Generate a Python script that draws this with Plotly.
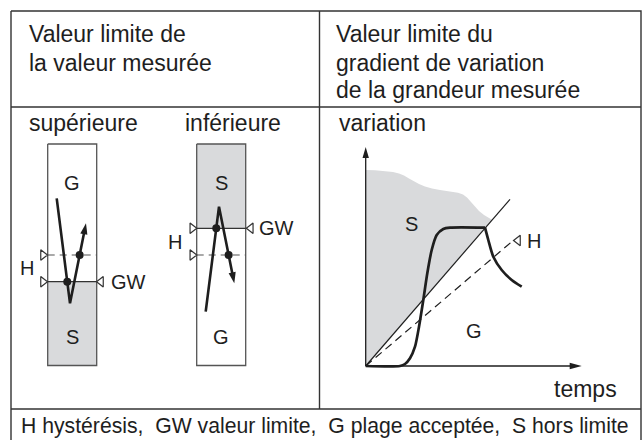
import numpy as np
import plotly.graph_objects as go

# ---------------- data (diagram coordinates, px units, y grows downward) ----------------
W, H = 644, 440

table_x = [11, 641]
table_y = [11, 441]
mid_x = 319.5
header_y = 107
footer_y = 409

header_left = ["Valeur limite de", "la valeur mesurée"]
header_right = ["Valeur limite du", "gradient de variation", "de la grandeur mesurée"]
header_line_y = [33.5, 62.5, 90]
sub_labels = ["supérieure", "inférieure", "variation"]
sub_label_x = [26.5, 182.5, 337]
sub_label_y = 123
footer_text = "H hystérésis,\u00a0\u00a0GW valeur limite,\u00a0\u00a0G plage acceptée,\u00a0\u00a0S hors limite"

# left diagrams: boxes
box_x0 = [47.7, 196.7]
box_x1 = [96.7, 245.7]
box_top, box_bot = 144, 365.5
gw_y = [281.7, 228.3]          # limit value line
h_y = [255, 255]               # hysteresis (dashed) line
gray_from = [281.7, 144]       # gray zone start
gray_to = [365.5, 228.3]       # gray zone end
zone_top = ["G", "S"]
zone_bot = ["S", "G"]
zone_label_y = [182.7, 336.7]

# measured value traces
trace1_x = [56.7, 70, 86]
trace1_y = [198.3, 303.3, 223.3]
trace2_x = [205.7, 219, 234.3]
trace2_y = [311.7, 206.7, 283.3]

# markers beside the boxes
tri_right_x = [43, 192.3]
tri_left_x = [101, 250.8]
h_label = [(26.7, 268.3), (174.7, 241.7)]
gw_label = [(128.7, 281.7), (276.7, 228.3)]

# right diagram
origin = (365.7, 366)
yaxis_tip = 147
xaxis_tip = 581.7
limit_line_end = (510, 199.3)
hyst_line_end = (512, 241.5)
hyst_marker = (518, 240.5)
hyst_label = (533.5, 241)
gray_top_x = [365.7, 375, 385, 393, 399, 404, 409, 414, 419, 425, 432, 440, 450, 458, 463,
              467, 471, 475, 479, 484, 488, 492]
gray_top_y = [170, 170.3, 171, 172, 173.5, 175.5, 178.5, 181.5, 184, 186.5, 188.5, 190, 191.5,
              192.8, 194.5, 197.5, 202, 207, 211, 215, 217.5, 219.8]
curve_rise_x = [365.7, 400, 405, 410, 415, 419, 423.3, 427.3, 431.7, 436.7, 443.3, 450, 485]
curve_rise_y = [366, 366, 364, 358.3, 346.7, 326.7, 300, 273.3, 250, 235, 229, 227.7, 227.7]
curve_fall_x = [485, 488.3, 493.3, 501.7, 511.7, 521.7]
curve_fall_y = [227.7, 240, 256.7, 270, 280, 286.7]
s_label = (411.3, 223.7)
g_label = (474, 330.7)
temps_label = (585, 389)

# ---------------- styles ----------------
GRAY = "#d9dadc"
INK = "#1e1e1e"
FRAME = "#333333"
BOXC = "#555555"
FONT = "Liberation Sans, Arial, sans-serif"

fig = go.Figure()


def line(xs, ys, color=INK, width=1.2, dash=None, shape="linear", smooth=None):
    ln = dict(color=color, width=width, shape=shape)
    if dash:
        ln["dash"] = dash
    if smooth is not None:
        ln["smoothing"] = smooth
    fig.add_trace(go.Scatter(x=xs, y=ys, mode="lines", line=ln, hoverinfo="skip", showlegend=False))


def poly(xs, ys, color=GRAY):
    fig.add_trace(go.Scatter(x=xs, y=ys, mode="lines", fill="toself", fillcolor=color,
                             line=dict(width=0, color=color), hoverinfo="skip", showlegend=False))


def arrow_head(x0, y0, x1, y1, L=10, w=3.6, color=INK):
    d = np.array([x1 - x0, y1 - y0], float)
    u = d / np.hypot(*d)
    n = np.array([-u[1], u[0]])
    b = np.array([x1, y1]) - L * u
    p1 = b + w * n
    p2 = b - w * n
    poly([x1, p1[0], p2[0], x1], [y1, p1[1], p2[1], y1], color=color)
    return b


def text(x, y, s, size=20, anchor="center"):
    fig.add_annotation(x=x, y=y, text=s, showarrow=False, xanchor=anchor, yanchor="middle",
                       font=dict(family=FONT, size=size, color=INK))


def seg_x_at(xa, ya, xb, yb, y):
    return xa + (xb - xa) * (y - ya) / (yb - ya)


# gray zones in the boxes
for i in range(2):
    poly([box_x0[i], box_x1[i], box_x1[i], box_x0[i], box_x0[i]],
         [gray_from[i], gray_from[i], gray_to[i], gray_to[i], gray_from[i]])

# gray zone of right diagram (y axis, top boundary, limit line back to origin)
gx = [origin[0]] + gray_top_x + [origin[0]]
gy = [origin[1]] + gray_top_y + [origin[1]]
poly(gx, gy)

# table frame
line([table_x[0], table_x[1], table_x[1], table_x[0], table_x[0]],
     [table_y[0], table_y[0], table_y[1], table_y[1], table_y[0]], color=FRAME, width=1.4)
line([table_x[0], table_x[1]], [header_y, header_y], color=FRAME, width=1.4)
line([table_x[0], table_x[1]], [footer_y, footer_y], color=FRAME, width=1.4)
line([mid_x, mid_x], [table_y[0], footer_y], color=FRAME, width=1.4)

# boxes
for i in range(2):
    line([box_x0[i], box_x1[i], box_x1[i], box_x0[i], box_x0[i]],
         [box_top, box_top, box_bot, box_bot, box_top], color=BOXC, width=1.3)
    line([box_x0[i], box_x1[i]], [gw_y[i], gw_y[i]], color="#333", width=1.3)
    line([box_x0[i], box_x1[i]], [h_y[i], h_y[i]], color="#555", width=1.2, dash="7px,5px")
    cx = (box_x0[i] + box_x1[i]) / 2
    text(cx, zone_label_y[0], zone_top[i], size=20)
    text(cx, zone_label_y[1], zone_bot[i], size=20)

# open triangles
fig.add_trace(go.Scatter(x=[tri_right_x[0]] * 2 + [tri_right_x[1]] * 2,
                         y=[h_y[0], gw_y[0], h_y[1], gw_y[1]], mode="markers",
                         marker=dict(symbol="triangle-right", size=9, color="white",
                                     line=dict(color="#333", width=1.2)),
                         hoverinfo="skip", showlegend=False))
fig.add_trace(go.Scatter(x=tri_left_x + [hyst_marker[0]], y=gw_y + [hyst_marker[1]], mode="markers",
                         marker=dict(symbol="triangle-left", size=9, color="white",
                                     line=dict(color="#333", width=1.2)),
                         hoverinfo="skip", showlegend=False))

# measured value traces with arrow heads and crossing dots
for tx, ty, i in [(trace1_x, trace1_y, 0), (trace2_x, trace2_y, 1)]:
    b = arrow_head(tx[1], ty[1], tx[2], ty[2], L=11, w=3.6)
    line([tx[0], tx[1], b[0] + (tx[2] - b[0]) * 0.3], [ty[0], ty[1], b[1] + (ty[2] - b[1]) * 0.3],
         width=2.6)
    d1 = (seg_x_at(tx[0], ty[0], tx[1], ty[1], gw_y[i]), gw_y[i])
    d2 = (seg_x_at(tx[1], ty[1], tx[2], ty[2], h_y[i]), h_y[i])
    fig.add_trace(go.Scatter(x=[d1[0], d2[0]], y=[d1[1], d2[1]], mode="markers",
                             marker=dict(size=8, color=INK), hoverinfo="skip", showlegend=False))

for (x, y) in h_label:
    text(x, y, "H", size=20)
for (x, y) in gw_label:
    text(x, y, "GW", size=20)

# right diagram axes
arrow_head(origin[0], origin[1], origin[0], yaxis_tip, L=11, w=3.2)
line([origin[0], origin[0]], [origin[1], yaxis_tip + 8], width=1.3)
arrow_head(origin[0], origin[1], xaxis_tip, origin[1], L=12, w=3.2)
line([origin[0], xaxis_tip - 8], [origin[1], origin[1]], width=1.3)

# limit gradient lines
line([origin[0], limit_line_end[0]], [origin[1], limit_line_end[1]], width=1.2)
line([origin[0], hyst_line_end[0]], [origin[1], hyst_line_end[1]], width=1.2, dash="8px,5px")

# measured curve
line(curve_rise_x, curve_rise_y, width=2.7, shape="spline", smooth=0.7)
line(curve_fall_x, curve_fall_y, width=2.7, shape="spline", smooth=0.7)

text(s_label[0], s_label[1], "S", size=20)
text(g_label[0], g_label[1], "G", size=20)
text(hyst_label[0], hyst_label[1], "H", size=20)
text(temps_label[0], temps_label[1], "temps", size=23)

# headers
for i, s in enumerate(header_left):
    text(26.5, header_line_y[i], s, size=23, anchor="left")
for i, s in enumerate(header_right):
    text(334, header_line_y[i], s, size=23, anchor="left")
for s, x in zip(sub_labels, sub_label_x):
    text(x, sub_label_y, s, size=23, anchor="left")
text(19, 425.5, footer_text, size=21.2, anchor="left")

fig.update_layout(
    width=W, height=H, margin=dict(l=0, r=0, t=0, b=0),
    paper_bgcolor="white", plot_bgcolor="white",
    xaxis=dict(range=[0, W], visible=False, fixedrange=True),
    yaxis=dict(range=[H, 0], visible=False, fixedrange=True),
    showlegend=False,
)

fig.write_html("out.html", config={"displayModeBar": False},
               post_script="document.body.style.margin='0';document.body.style.overflow='hidden';")
